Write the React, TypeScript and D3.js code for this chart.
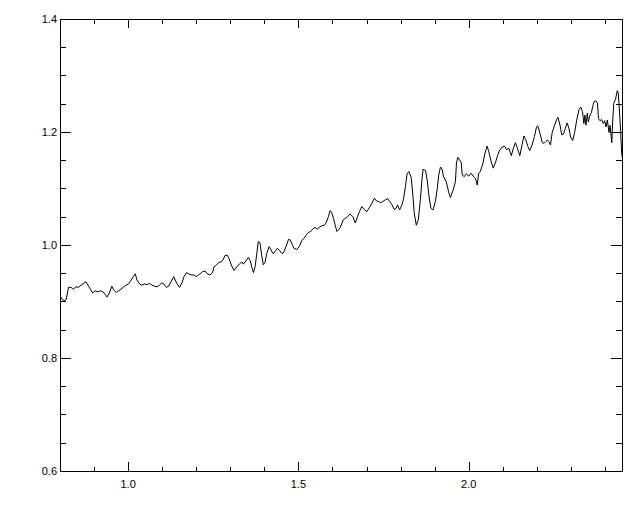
import React, { useEffect, useRef } from "react";
import * as d3 from "d3";

const waveX: number[] = [
  0.802, 0.807, 0.813, 0.818, 0.825, 0.832, 0.840, 0.847, 0.854, 0.862, 0.870, 0.876, 0.884, 0.889, 0.896, 0.903,
  0.911, 0.919, 0.926, 0.932, 0.938, 0.945, 0.952, 0.958, 0.965, 0.972, 0.979, 0.987, 0.994, 1.001, 1.009, 1.015,
  1.021, 1.026, 1.034, 1.040, 1.048, 1.056, 1.063, 1.070, 1.078, 1.085, 1.092, 1.099, 1.105, 1.112, 1.119, 1.126,
  1.134, 1.138, 1.144, 1.151, 1.158, 1.164, 1.171, 1.178, 1.185, 1.193, 1.200, 1.207, 1.215,
  1.219, 1.226, 1.232, 1.240, 1.248, 1.252, 1.260, 1.266, 1.272, 1.278, 1.284, 1.291, 1.297, 1.304, 1.311, 1.319,
  1.326, 1.334, 1.338, 1.346, 1.353, 1.358, 1.363, 1.368, 1.373, 1.378, 1.382, 1.387, 1.392, 1.397, 1.402, 1.407,
  1.414, 1.419, 1.425, 1.431, 1.438, 1.444, 1.451, 1.456, 1.464, 1.471, 1.476, 1.481, 1.487, 1.495, 1.503, 1.510,
  1.517, 1.523, 1.529, 1.536, 1.542, 1.549, 1.556, 1.562, 1.569, 1.576, 1.581, 1.588, 1.593, 1.598, 1.603, 1.608,
  1.613, 1.618, 1.623,
  1.631, 1.637, 1.644, 1.652, 1.660, 1.667, 1.674, 1.679, 1.686, 1.693, 1.701, 1.709, 1.716, 1.723, 1.729, 1.735,
  1.742, 1.748, 1.755, 1.762, 1.768, 1.775, 1.781, 1.787, 1.791, 1.797, 1.804, 1.809, 1.814, 1.819, 1.824, 1.831,
  1.836, 1.840, 1.846, 1.852, 1.858, 1.863, 1.866, 1.873, 1.878, 1.884, 1.889, 1.895, 1.902, 1.907, 1.912, 1.917,
  1.922, 1.926, 1.934, 1.941, 1.946, 1.954, 1.961, 1.964, 1.968, 1.974, 1.978, 1.981, 1.987, 1.993, 2.000, 2.007,
  2.013, 2.020, 2.025, 2.029, 2.034, 2.042, 2.047,
  2.054, 2.059, 2.066, 2.072, 2.079, 2.085, 2.091, 2.098, 2.105, 2.111, 2.118, 2.125, 2.131, 2.137, 2.142, 2.150,
  2.157, 2.162, 2.167, 2.174, 2.179, 2.186, 2.193, 2.199, 2.203, 2.209, 2.216, 2.221, 2.226, 2.231, 2.235, 2.240,
  2.245, 2.252, 2.258, 2.262, 2.268, 2.273, 2.278, 2.284, 2.289, 2.294, 2.299, 2.305, 2.311, 2.317, 2.324, 2.329,
  2.334, 2.338, 2.341, 2.344, 2.348, 2.351, 2.356, 2.360, 2.364, 2.368, 2.373, 2.378, 2.381, 2.385, 2.390, 2.395,
  2.399, 2.403, 2.407, 2.412, 2.415, 2.420, 2.423, 2.426, 2.431, 2.436, 2.439, 2.442, 2.446, 2.449, 2.450,
];

const fluxY: number[] = [
  0.908, 0.903, 0.902, 0.903, 0.925, 0.925, 0.922, 0.926, 0.925, 0.929, 0.932, 0.935, 0.927, 0.922, 0.915, 0.919,
  0.917, 0.919, 0.917, 0.913, 0.908, 0.915, 0.927, 0.920, 0.916, 0.919, 0.922, 0.926, 0.929, 0.931, 0.938, 0.944,
  0.949, 0.938, 0.931, 0.929, 0.931, 0.930, 0.932, 0.929, 0.927, 0.926, 0.929, 0.933, 0.931, 0.925, 0.927, 0.935,
  0.944, 0.938, 0.931, 0.925, 0.933, 0.944, 0.951, 0.949, 0.947, 0.947, 0.944, 0.947, 0.951,
  0.953, 0.954, 0.949, 0.947, 0.951, 0.961, 0.965, 0.969, 0.970, 0.973, 0.981, 0.982, 0.975, 0.963, 0.955, 0.961,
  0.966, 0.970, 0.966, 0.972, 0.978, 0.973, 0.961, 0.951, 0.962, 0.986, 1.006, 1.004, 0.982, 0.965, 0.969, 0.985,
  0.997, 0.992, 0.985, 0.988, 0.994, 0.991, 0.985, 0.986, 0.998, 1.010, 1.009, 1.002, 0.994, 0.992, 0.998, 1.008,
  1.012, 1.018, 1.022, 1.024, 1.028, 1.031, 1.028, 1.032, 1.034, 1.035, 1.039, 1.050, 1.061, 1.057, 1.047, 1.035,
  1.024, 1.027, 1.031,
  1.044, 1.047, 1.050, 1.055, 1.050, 1.039, 1.051, 1.059, 1.068, 1.063, 1.059, 1.067, 1.074, 1.083, 1.078, 1.077,
  1.075, 1.077, 1.080, 1.082, 1.077, 1.071, 1.063, 1.065, 1.071, 1.062, 1.071, 1.083, 1.103, 1.126, 1.130, 1.120,
  1.088, 1.057, 1.035, 1.045, 1.080, 1.118, 1.134, 1.132, 1.115, 1.083, 1.065, 1.062, 1.077, 1.097, 1.124, 1.138,
  1.134, 1.121, 1.112, 1.094, 1.084, 1.097, 1.112, 1.145, 1.155, 1.150, 1.146, 1.124, 1.121, 1.126, 1.122, 1.127,
  1.122, 1.118, 1.106, 1.127, 1.130, 1.145, 1.161,
  1.175, 1.165, 1.147, 1.136, 1.147, 1.159, 1.168, 1.173, 1.175, 1.169, 1.171, 1.158, 1.171, 1.181, 1.173, 1.158,
  1.179, 1.193, 1.187, 1.174, 1.167, 1.177, 1.192, 1.209, 1.211, 1.198, 1.181, 1.180, 1.183, 1.186, 1.183, 1.177,
  1.199, 1.212, 1.222, 1.226, 1.212, 1.195, 1.196, 1.207, 1.216, 1.207, 1.191, 1.185, 1.199, 1.221, 1.240, 1.244,
  1.236, 1.215, 1.230, 1.212, 1.233, 1.218, 1.230, 1.234, 1.245, 1.254, 1.255, 1.251, 1.224, 1.220, 1.222, 1.215,
  1.220, 1.209, 1.221, 1.199, 1.212, 1.181, 1.224, 1.251, 1.258, 1.273, 1.269, 1.242, 1.201, 1.162, 1.156,
];

const xMajorTicks: number[] = [1.0, 1.5, 2.0];
const xTickLabels: string[] = ["1.0", "1.5", "2.0"];
const yMajorTicks: number[] = [0.6, 0.8, 1.0, 1.2, 1.4];
const yTickLabels: string[] = ["0.6", "0.8", "1.0", "1.2", "1.4"];

const W = 640;
const H = 512;
const L = 60;
const R = 622;
const T = 19;
const B = 471;

export default function App() {
  const ref = useRef<SVGSVGElement | null>(null);

  useEffect(() => {
    const svg = d3.select(ref.current);
    svg.selectAll("*").remove();

    const x = d3.scaleLinear().domain([0.8, 2.45]).range([L, R]);
    const y = d3.scaleLinear().domain([0.6, 1.4]).range([B, T]);

    svg.append("rect").attr("width", W).attr("height", H).attr("fill", "#fff");

    const clipId = "plotclip";
    svg
      .append("clipPath")
      .attr("id", clipId)
      .append("rect")
      .attr("x", L)
      .attr("y", T)
      .attr("width", R - L)
      .attr("height", B - T);

    const pts: [number, number][] = waveX.map((v, i) => [v, fluxY[i]]);
    const line = d3
      .line<[number, number]>()
      .x((d) => x(d[0]))
      .y((d) => y(d[1]));

    svg
      .append("path")
      .attr("d", line(pts) || "")
      .attr("fill", "none")
      .attr("stroke", "#000")
      .attr("stroke-width", 1)
      .attr("clip-path", `url(#${clipId})`);

    const g = svg.append("g").attr("shape-rendering", "crispEdges").attr("stroke", "#000").attr("stroke-width", 1);

    g.append("rect")
      .attr("x", L + 0.5)
      .attr("y", T + 0.5)
      .attr("width", R - L)
      .attr("height", B - T)
      .attr("fill", "none");

    const xMinor = d3.range(0.9, 2.45, 0.1).filter((v) => !xMajorTicks.some((m) => Math.abs(m - v) < 1e-6));
    const yMinor = d3.range(0.65, 1.4, 0.05).filter((v) => !yMajorTicks.some((m) => Math.abs(m - v) < 1e-6));

    const xTick = (v: number, len: number) => {
      const px = Math.round(x(v)) + 0.5;
      g.append("line").attr("x1", px).attr("x2", px).attr("y1", B).attr("y2", B - len);
      g.append("line").attr("x1", px).attr("x2", px).attr("y1", T).attr("y2", T + len);
    };
    const yTick = (v: number, len: number) => {
      const py = Math.round(y(v)) + 0.5;
      g.append("line").attr("y1", py).attr("y2", py).attr("x1", L).attr("x2", L + len);
      g.append("line").attr("y1", py).attr("y2", py).attr("x1", R).attr("x2", R - len);
    };
    xMajorTicks.forEach((v) => xTick(v, 9));
    xMinor.forEach((v) => xTick(v, 4.5));
    yMajorTicks.forEach((v) => yTick(v, 11));
    yMinor.forEach((v) => yTick(v, 5.6));

    const font = "'Liberation Sans', Arial, Helvetica, sans-serif";
    svg
      .selectAll("text.xl")
      .data(xMajorTicks)
      .enter()
      .append("text")
      .attr("x", (d) => x(d))
      .attr("y", 487.5)
      .attr("text-anchor", "middle")
      .attr("font-family", font)
      .attr("font-size", 11)
      .attr("fill", "#000")
      .text((d, i) => xTickLabels[i]);

    svg
      .selectAll("text.yl")
      .data(yMajorTicks)
      .enter()
      .append("text")
      .attr("x", 57)
      .attr("y", (d) => y(d) + 4)
      .attr("text-anchor", "end")
      .attr("font-family", font)
      .attr("font-size", 11)
      .attr("fill", "#000")
      .text((d, i) => yTickLabels[i]);
  }, []);

  return (
    <svg
      ref={ref}
      width={W}
      height={H}
      style={{ position: "absolute", left: 0, top: 0, display: "block" }}
    />
  );
}
